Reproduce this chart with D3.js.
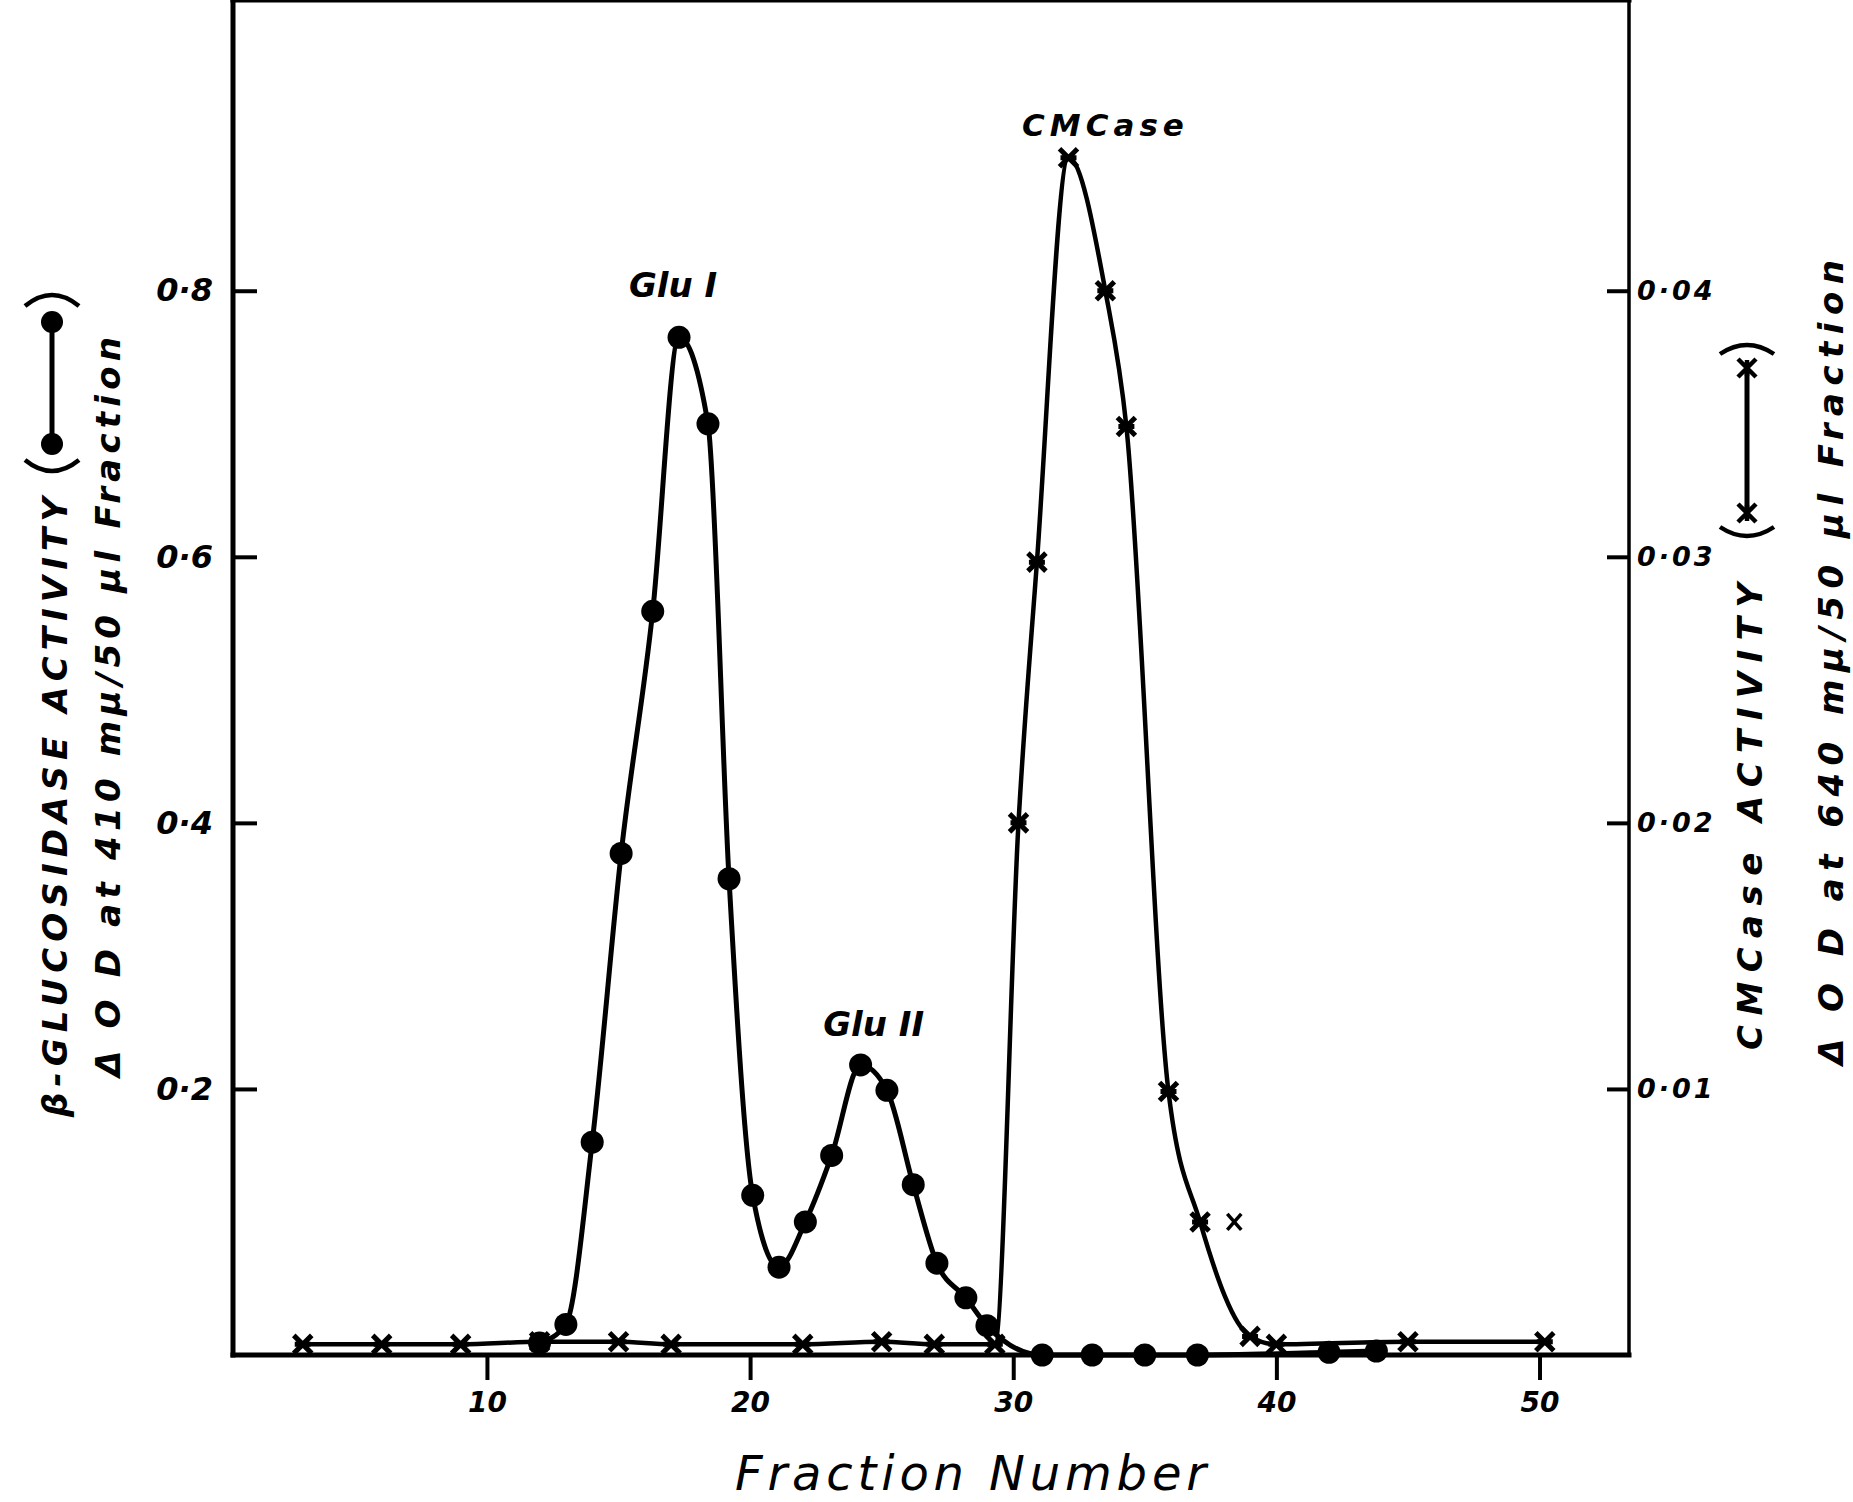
<!DOCTYPE html>
<html>
<head>
<meta charset="utf-8">
<script src="https://cdn.jsdelivr.net/npm/d3@7"></script>
<style>
  body { margin: 0; background: #fff; }
  text { font-family: "DejaVu Sans", sans-serif; fill: #000; }
</style>
</head>
<body>
<div id="chart"></div>
<script>
var width = 1853,
    height = 1502;

// beta-glucosidase (left axis, filled circles)
var gluFraction = [12, 13, 14, 15.1, 16.3, 17.3, 18.4, 19.2, 20.1, 21.1, 22.1, 23.1, 24.2, 25.2, 26.2, 27.1, 28.2, 29.0, 31.1, 33, 35, 37, 42, 43.8];
var gluActivity = [0.009, 0.023, 0.16, 0.377, 0.559, 0.765, 0.70, 0.358, 0.120, 0.066, 0.100, 0.150, 0.218, 0.199, 0.128, 0.069, 0.043, 0.022, 0, 0, 0, 0, 0.002, 0.003];

// CMCase (right axis, crosses)
var cmcFraction = [3, 6, 9, 12, 15, 17, 22, 25, 27, 29.3, 30.2, 30.9, 32.1, 33.5, 34.3, 35.9, 37.1, 39, 40, 45, 50.2];
var cmcActivity = [0.0004, 0.0004, 0.0004, 0.0005, 0.0005, 0.0004, 0.0004, 0.0005, 0.0004, 0.0004, 0.0200, 0.0298, 0.0450, 0.0400, 0.0349, 0.0099, 0.0050, 0.0007, 0.0004, 0.0005, 0.0005];

// lone cross beside the tail
var strayFraction = [38.4],
    strayActivity = [0.005];

var xTicks = [10, 20, 30, 40, 50];
var leftTicks = [0.2, 0.4, 0.6, 0.8],
    leftTickLabels = ["0·2", "0·4", "0·6", "0·8"];
var rightTicks = [0.01, 0.02, 0.03, 0.04],
    rightTickLabels = ["0·01", "0·02", "0·03", "0·04"];

var peakLabels = ["Glu I", "Glu II", "CMCase"];

var svg = d3.select("#chart").append("svg")
    .attr("width", width)
    .attr("height", height)
    .style("background", "#fff");

var x = d3.scaleLinear().domain([0.35, 53.4]).range([233, 1629]);
var y = d3.scaleLinear().domain([0, 0.996]).range([1355, 30]);
var yRight = d3.scaleLinear().domain([0, 0.996 / 20]).range([1355, 30]);

var left = x.range()[0], right = x.range()[1],
    top = y.range()[1], bottom = y.range()[0];

// frame
var frame = svg.append("g").attr("class", "frame")
    .attr("stroke", "#000").attr("stroke-linecap", "square");
frame.append("line").attr("x1", left).attr("x2", left).attr("y1", top).attr("y2", bottom).attr("stroke-width", 5);
frame.append("line").attr("x1", left).attr("x2", right).attr("y1", top).attr("y2", top).attr("stroke-width", 5);
frame.append("line").attr("x1", left).attr("x2", right).attr("y1", bottom).attr("y2", bottom).attr("stroke-width", 5);
frame.append("line").attr("x1", right).attr("x2", right).attr("y1", top).attr("y2", bottom).attr("stroke-width", 3.5);

// axes
var xAxis = svg.append("g")
    .attr("transform", "translate(0," + bottom + ")")
    .call(d3.axisBottom(x).tickValues(xTicks).tickSize(25).tickPadding(12).tickFormat(d3.format("d")));

var yAxisLeft = svg.append("g")
    .attr("transform", "translate(" + left + ",0)")
    .call(d3.axisLeft(y).tickValues(leftTicks).tickSize(-24).tickPadding(20)
      .tickFormat(function(d, i) { return leftTickLabels[i]; }));

var yAxisRight = svg.append("g")
    .attr("transform", "translate(" + right + ",0)")
    .call(d3.axisRight(yRight).tickValues(rightTicks).tickSize(-22).tickPadding(8)
      .tickFormat(function(d, i) { return rightTickLabels[i]; }));

[xAxis, yAxisLeft, yAxisRight].forEach(function(g) {
  g.select(".domain").remove();
  g.attr("font-family", null).attr("font-size", null);
  g.selectAll(".tick line").attr("stroke", "#000").attr("stroke-width", 4);
  g.selectAll(".tick text")
      .style("font-weight", "bold")
      .style("font-style", "italic");
});
xAxis.selectAll(".tick text").style("font-size", "28px");
yAxisLeft.selectAll(".tick text").style("font-size", "32px");
yAxisRight.selectAll(".tick text").style("font-size", "27px").style("letter-spacing", "3px");

// series
var gluData = gluFraction.map(function(f, i) { return {f: f, v: gluActivity[i]}; });
var cmcData = cmcFraction.map(function(f, i) { return {f: f, v: cmcActivity[i]}; });
var strayData = strayFraction.map(function(f, i) { return {f: f, v: strayActivity[i]}; });

var gluLine = d3.line()
    .curve(d3.curveMonotoneX)
    .x(function(d) { return x(d.f); })
    .y(function(d) { return y(d.v); });

var cmcLine = d3.line()
    .curve(d3.curveMonotoneX)
    .x(function(d) { return x(d.f); })
    .y(function(d) { return yRight(d.v); });

svg.append("path")
    .attr("d", cmcLine(cmcData))
    .attr("fill", "none")
    .attr("stroke", "#000")
    .attr("stroke-width", 4.5)
    .attr("stroke-linejoin", "round");

svg.append("path")
    .attr("d", gluLine(gluData))
    .attr("fill", "none")
    .attr("stroke", "#000")
    .attr("stroke-width", 5)
    .attr("stroke-linejoin", "round");

svg.append("g").selectAll("circle")
    .data(gluData)
  .enter().append("circle")
    .attr("cx", function(d) { return x(d.f); })
    .attr("cy", function(d) { return y(d.v); })
    .attr("r", 11.5)
    .attr("fill", "#000");

var cross = "M-9,-9L9,9M-9,9L9,-9M-8,0L8,0";
svg.append("g").selectAll("path")
    .data(cmcData)
  .enter().append("path")
    .attr("d", cross)
    .attr("transform", function(d) { return "translate(" + x(d.f) + "," + yRight(d.v) + ")"; })
    .attr("stroke", "#000")
    .attr("stroke-width", 5)
    .attr("fill", "none");

svg.append("g").selectAll("path")
    .data(strayData)
  .enter().append("path")
    .attr("d", "M-7,-8L7,8M-7,8L7,-8")
    .attr("transform", function(d) { return "translate(" + x(d.f) + "," + yRight(d.v) + ")"; })
    .attr("stroke", "#000")
    .attr("stroke-width", 3.5);

// peak labels
function peakOf(data) {
  return data.reduce(function(a, b) { return b.v > a.v ? b : a; });
}
var gluPeak = peakOf(gluData),
    glu2Peak = peakOf(gluData.filter(function(d) { return d.f > 21 && d.f < 29; })),
    cmcPeak = peakOf(cmcData);

var labelStyle = function(t, size) {
  t.style("font-weight", "bold").style("font-style", "italic")
   .style("font-size", size + "px").attr("text-anchor", "middle");
};
svg.append("text").text(peakLabels[0])
    .attr("x", x(gluPeak.f) - 6).attr("y", y(gluPeak.v) - 40)
    .call(labelStyle, 34);
svg.append("text").text(peakLabels[1])
    .attr("x", x(glu2Peak.f) + 13).attr("y", y(glu2Peak.v) - 29)
    .call(labelStyle, 34);
svg.append("text").text(peakLabels[2])
    .attr("x", x(cmcPeak.f) + 37).attr("y", yRight(cmcPeak.v) - 22)
    .call(labelStyle, 31)
    .style("letter-spacing", "5px");

// x title
svg.append("text")
    .text("Fraction  Number")
    .attr("x", 735).attr("y", 1490)
    .attr("textLength", 471)
    .attr("lengthAdjust", "spacing")
    .style("font-style", "italic")
    .style("font-size", "48px");

// rotated y titles with legend keys, drawn along the rotated text direction
function yTitle(bx, by, str, len, key) {
  var g = svg.append("g").attr("transform", "translate(" + bx + "," + by + ") rotate(-90)");
  g.append("text")
      .text(str)
      .attr("x", 0).attr("y", 0)
      .attr("textLength", len)
      .attr("lengthAdjust", "spacing")
      .style("font-weight", "bold")
      .style("font-style", "italic")
      .style("font-size", "34px");
  if (!key) return;
  var u0 = len + key.gap, u1 = u0 + key.span, v = -15;
  // bracket arcs opening toward the key
  var arc = function(ue, ub) {
    return "M" + ue + "," + (v - 27) + "Q" + ub + "," + v + " " + ue + "," + (v + 27);
  };
  g.append("path").attr("d", arc(u0 - key.pad, u0 - key.pad - 2 * key.depth))
      .attr("fill", "none").attr("stroke", "#000").attr("stroke-width", 4.5);
  g.append("path").attr("d", arc(u1 + key.pad, u1 + key.pad + 2 * key.depth))
      .attr("fill", "none").attr("stroke", "#000").attr("stroke-width", 4.5);
  g.append("line")
      .attr("x1", u0).attr("x2", u1)
      .attr("y1", v).attr("y2", v)
      .attr("stroke", "#000").attr("stroke-width", 5);
  [u0, u1].forEach(function(u) {
    if (key.type === "circle") {
      g.append("circle").attr("cx", u).attr("cy", v).attr("r", 11).attr("fill", "#000");
    } else {
      g.append("path").attr("d", cross)
          .attr("transform", "translate(" + u + "," + v + ")")
          .attr("stroke", "#000").attr("stroke-width", 4.5);
    }
  });
}

yTitle(67, 1117, "β-GLUCOSIDASE  ACTIVITY", 620, {type: "circle", gap: 53, span: 122, pad: 16, depth: 11});
yTitle(120, 1077, "Δ O D  at  410 mμ/50 μl  Fraction", 740);
yTitle(1762, 1050, "CMCase  ACTIVITY", 467, {type: "cross", gap: 70, span: 145, pad: 14, depth: 9});
yTitle(1843, 1065, "Δ O D  at  640 mμ/50 μl  Fraction", 805);
</script>
</body>
</html>
